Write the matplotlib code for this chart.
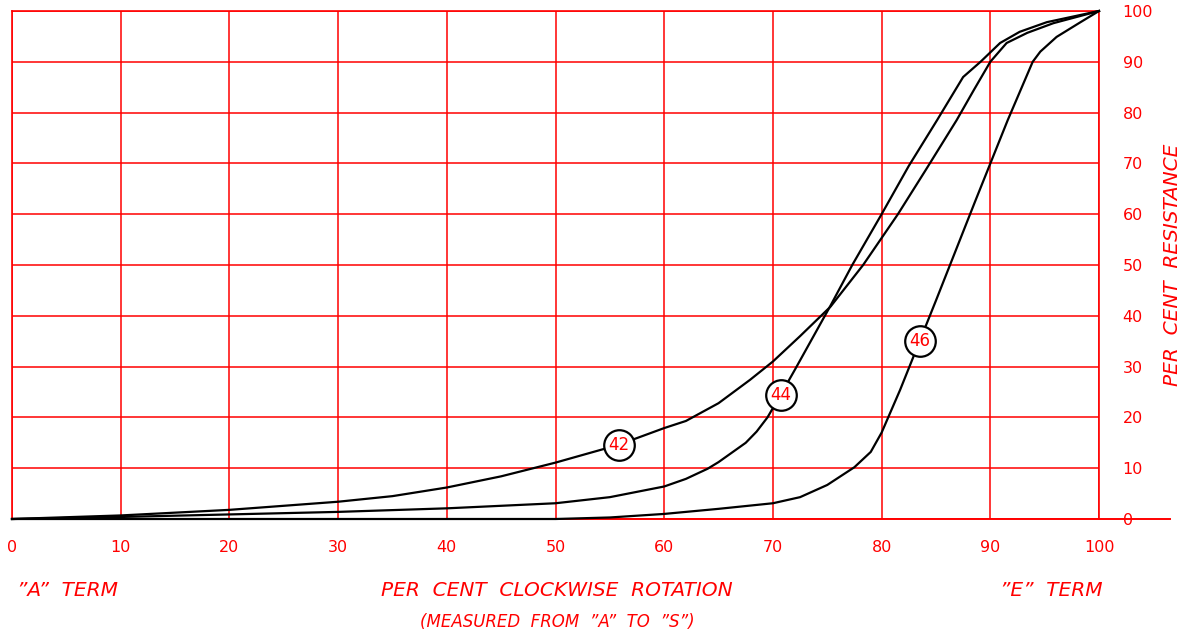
import matplotlib
matplotlib.use("Agg")
import matplotlib.pyplot as plt
from matplotlib.lines import Line2D

# curve data (per cent rotation, per cent resistance)
x42 = [0, 10, 20, 30, 35, 40, 45, 50, 55.8, 60, 62, 65, 67.9, 70, 72.5, 75.3,
       78.3, 81.5, 84, 86.9, 88.5, 90, 91.5, 93.4, 95.8, 100]
y42 = [0, 0.7, 1.8, 3.4, 4.5, 6.2, 8.4, 11.1, 14.6, 17.9, 19.3, 22.8, 27.4, 31, 36, 41.8,
       50, 60, 68.5, 78.5, 84.5, 90, 93.7, 95.7, 97.6, 100]

x44 = [0, 10, 20, 30, 40, 50, 55, 60, 62, 64, 65, 67.5, 68.5, 69.5, 70.7, 72, 75.3,
       77.3, 80, 82.5, 85.1, 87.5, 89.1, 90.9, 92.7, 95.2, 100]
y44 = [0, 0.4, 0.9, 1.4, 2.1, 3.1, 4.3, 6.4, 7.9, 9.9, 11.2, 15, 17.2, 20, 24.4, 29.3, 42,
       50, 60, 69.5, 78.5, 87, 90, 93.7, 95.9, 97.8, 100]

x46 = [0, 50, 55, 60, 65, 70, 72.5, 75, 77.5, 79, 80, 81.7, 83.5, 85, 88.6,
       91.6, 93.9, 94.6, 96.1, 98.3, 100]
y46 = [0, 0, 0.3, 1.0, 2.0, 3.1, 4.3, 6.7, 10.2, 13.2, 17, 25.4, 35, 43, 62.5,
       78.5, 90, 92, 94.9, 97.8, 100]

# curve labels (number, x, y)
tags = ["42", "44", "46"]
tag_x = [55.8, 70.7, 83.5]
tag_y = [14.6, 24.4, 35]

ticks = list(range(0, 101, 10))
RED = "#ff0000"

fig = plt.figure(figsize=(11.91, 6.38), dpi=100)
ax = fig.add_axes([12 / 1191, 1 - 519 / 638, 1087 / 1191, 508 / 638])
ax.set_xlim(0, 100)
ax.set_ylim(0, 100)

for s in ax.spines.values():
    s.set_color(RED)
    s.set_linewidth(1.2)
ax.spines["bottom"].set_visible(False)

ax.set_xticks(ticks)
ax.set_yticks(ticks)
ax.grid(True, color=RED, linewidth=1.1)
ax.set_axisbelow(True)
ax.yaxis.tick_right()
ax.tick_params(axis="both", length=0, colors=RED, labelsize=11.5)
ax.tick_params(axis="x", pad=15)
ax.tick_params(axis="y", pad=17)

# baseline runs past the right edge
ax.add_line(Line2D([0, 1.0653], [0, 0], transform=ax.transAxes, color=RED,
                   linewidth=1.4, clip_on=False, zorder=1))

for xs, ys in [(x42, y42), (x44, y44), (x46, y46)]:
    ax.plot(xs, ys, color="black", linewidth=1.6, zorder=3, clip_on=False)

for t, tx, ty in zip(tags, tag_x, tag_y):
    ax.plot(tx, ty, marker="o", markersize=22, markerfacecolor="white",
            markeredgecolor="black", markeredgewidth=1.6, zorder=4)
    ax.text(tx, ty, t, color=RED, fontsize=12, ha="center", va="center", zorder=5)

lab = dict(color=RED, fontstyle="italic", fontsize=14.5, transform=fig.transFigure)
fig.text(17 / 1191, 1 - 591 / 638, "”A”  TERM", ha="left", va="center", **lab)
fig.text(1103 / 1191, 1 - 591 / 638, "”E”  TERM", ha="right", va="center", **lab)
fig.text(557 / 1191, 1 - 591 / 638, "PER  CENT  CLOCKWISE  ROTATION",
         ha="center", va="center", **lab)
fig.text(557 / 1191, 1 - 622 / 638, "(MEASURED  FROM  ”A”  TO  ”S”)",
         ha="center", va="center", color=RED, fontstyle="italic", fontsize=12)
fig.text(1172 / 1191, 1 - 265 / 638, "PER  CENT  RESISTANCE", rotation=90,
         ha="center", va="center", **lab)

fig.savefig("out.png", dpi=100)
